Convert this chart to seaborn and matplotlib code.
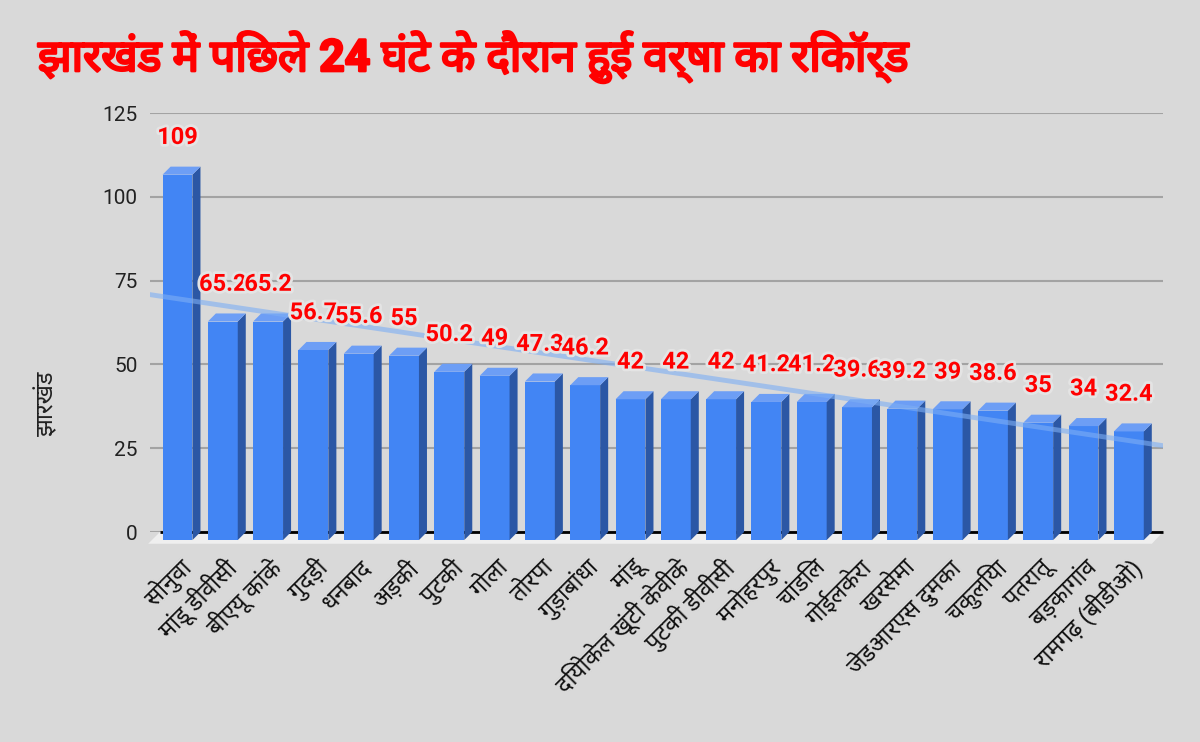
import numpy as np
import matplotlib
matplotlib.use("Agg")
import matplotlib.pyplot as plt
import matplotlib.patheffects as pe
from matplotlib import font_manager
from matplotlib.ft2font import FT2Font
from matplotlib.patches import Polygon
from matplotlib.transforms import ScaledTranslation
import seaborn as sns

# Rainfall (mm) per station, in the order shown on the chart
stations = [
    "सोनुवा", "मांडू डीवीसी", "बीएयू कांके", "गुदड़ी", "धनबाद", "अड़की",
    "पुटकी", "गोला", "तोरपा", "गुड़ाबांधा", "मांडू", "दियोकेल खूंटी केवीके",
    "पुटकी डीवीसी", "मनोहरपुर", "चांडिल", "गोईलकेरा", "खरसेमा",
    "जेडआरएस दुमका", "चकुलिया", "पतरातू", "बड़कागांव", "रामगढ़ (बीडीओ)",
]
rainfall = [
    109, 65.2, 65.2, 56.7, 55.6, 55, 50.2, 49, 47.3, 46.2, 42, 42, 42,
    41.2, 41.2, 39.6, 39.2, 39, 38.6, 35, 34, 32.4,
]
y_ticks = [0, 25, 50, 75, 100, 125]
title = "झारखंड में पिछले 24 घंटे के दौरान हुई वर्षा का रिकॉर्ड"
y_label = "झारखंड"


def find_devanagari_font():
    """Return the name of an installed font with Devanagari glyphs, if any."""
    names = []
    for f in font_manager.fontManager.ttflist:
        if "CJK" in f.name:
            continue
        try:
            cmap = FT2Font(f.fname).get_charmap()
        except Exception:
            continue
        if 0x0915 in cmap and 0x093F in cmap:
            names.append(f.name)
    if not names:
        return None
    for pref in ["Noto Sans Devanagari", "Lohit Devanagari", "Mukta"]:
        if pref in names:
            return pref
    return sorted(set(names))[0]


sns.set_style("white")
dev_font = find_devanagari_font()
families = ["Roboto"] + ([dev_font] if dev_font else []) + ["DejaVu Sans"]
plt.rcParams["font.family"] = families

BG = "#D9D9D9"
FRONT = "#4285F4"
SIDE = "#2B57A5"
TOP = "#6D9EF5"

fig = plt.figure(figsize=(12, 7.42), dpi=100, facecolor=BG)
ax = fig.add_axes([0.125, 0.283, 0.844, 0.5647])
ax.set_facecolor(BG)

sns.barplot(x=stations, y=rainfall, color=FRONT, saturation=1, width=0.66,
            ax=ax, zorder=3)
bars = list(ax.patches)

n = len(stations)
ax.set_xlim(-0.607, n - 0.25)
ax.set_ylim(0, 125)
xl, xr = ax.get_xlim()

# fake 3D: push the front face down, add a side and a top face
DX, DY = 0.177, 2.4
for bar in bars:
    x0, w, h = bar.get_x(), bar.get_width(), bar.get_height()
    bar.set_y(-DY)
    bar.set_edgecolor("none")
    bar.set_clip_on(False)
    side = Polygon([(x0 + w, -DY), (x0 + w, h - DY), (x0 + w + DX, h),
                    (x0 + w + DX, 0)], closed=True, facecolor=SIDE,
                   edgecolor="none", clip_on=False, zorder=3)
    top = Polygon([(x0, h - DY), (x0 + w, h - DY), (x0 + w + DX, h),
                   (x0 + DX, h)], closed=True, facecolor=TOP,
                  edgecolor="none", clip_on=False, zorder=3)
    ax.add_patch(side)
    ax.add_patch(top)

# floor and base line
floor = Polygon([(xl - 0.04, -3.5), (xr - 0.24, -3.5), (xr, 0),
                 (xl + 0.22, 0)], closed=True, facecolor="#EFEFEF",
                edgecolor="none", clip_on=False, zorder=1)
ax.add_patch(floor)
ax.hlines(0, xl + 0.22, xr, color="black", linewidth=2, zorder=2,
          clip_on=False)

# trendline across the whole plot
sns.regplot(x=np.arange(n), y=rainfall, scatter=False, ci=None,
            truncate=False, ax=ax,
            line_kws=dict(color="#7DAEF4", alpha=0.6, linewidth=3.5,
                          zorder=4))
ax.set_xlim(xl, xr)

# value labels
for i, v in enumerate(rainfall):
    ax.annotate(f"{v:g}", (i, v), xytext=(0, 21), textcoords="offset points",
                ha="center", va="center", color="red", fontsize=17,
                fontweight="bold", zorder=5, annotation_clip=False,
                path_effects=[pe.withStroke(linewidth=4, foreground="#E4E4E4")])

ax.set_yticks(y_ticks)
ax.yaxis.grid(True, color="#A3A3A3", linewidth=1.5)
ax.set_axisbelow(True)
ax.tick_params(axis="y", length=0, pad=9, labelsize=15, labelcolor="#222222")
ax.tick_params(axis="x", length=0, pad=23, labelsize=17, labelcolor="#111111")
sns.despine(ax=ax, left=True, bottom=True)

ax.set_xticks(range(n))
ax.set_xticklabels(stations, rotation=45, ha="right", va="center",
                   rotation_mode="anchor")
shift = ScaledTranslation(7 / 72, 0, fig.dpi_scale_trans)
for lab in ax.get_xticklabels():
    lab.set_transform(lab.get_transform() + shift)

ax.set_xlabel("")
ax.set_ylabel(y_label, fontsize=17, color="#222222")
ax.yaxis.set_label_coords(-0.091, 0.308)

fig.text(38 / 1200, 1 - 57 / 742, title, fontsize=32, fontweight="bold",
         color="red", va="center", ha="left",
         path_effects=[pe.withStroke(linewidth=1.8, foreground="red")])

fig.savefig("out.png", dpi=100, facecolor=BG)
